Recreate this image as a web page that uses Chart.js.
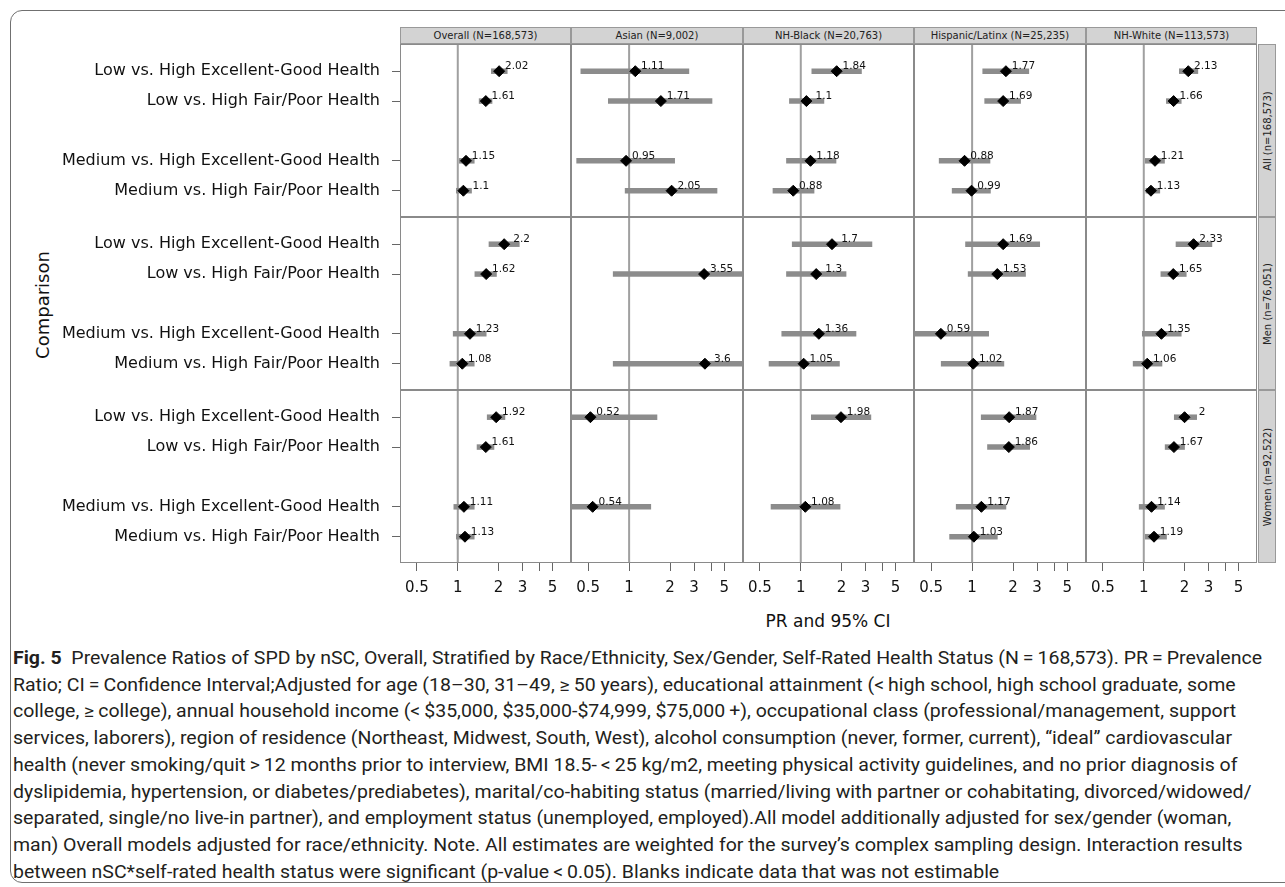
<!DOCTYPE html>
<html>
<head>
<meta charset="utf-8">
<title>Prevalence Ratios of SPD by nSC</title>
<script src="https://cdn.jsdelivr.net/npm/chart.js@4.4.1/dist/chart.umd.min.js"></script>
<style>
  html, body { margin: 0; padding: 0; background: #fff; }
  #fig { position: relative; width: 1285px; height: 887px; overflow: hidden; font-family: "DejaVu Sans", sans-serif; color: #111; }
  .frame { position: absolute; left: 10px; top: 10px; width: 1320px; height: 873px; border: 1.5px solid #707070; border-radius: 12px; box-sizing: border-box; }
  canvas { position: absolute; }
  .panel { position: absolute; border: 1.5px solid #8a8a8a; box-sizing: border-box; pointer-events: none; z-index: 3; }
  .strip { position: absolute; background: #d3d3d3; border: 1px solid #999; box-sizing: border-box; font-size: 10px; color: #222; text-align: center; line-height: 15px; white-space: nowrap; z-index: 2; }
  .rstrip { position: absolute; background: #d3d3d3; border: 1px solid #999; box-sizing: border-box; z-index: 2; }
  .rstrip span { position: absolute; left: 50%; top: 50%; transform: translate(-50%, -50%) rotate(-90deg); font-size: 10px; color: #222; white-space: nowrap; }
  .ytitle { position: absolute; left: 42px; top: 305px; transform: translate(-50%, -50%) rotate(-90deg); font-size: 18px; white-space: nowrap; }
  .xtitle { position: absolute; left: 828px; top: 621px; transform: translate(-50%, -50%); font-size: 17px; white-space: nowrap; }
  #caption { position: absolute; left: 13px; top: 645px; font-family: Roboto, "Open Sans", sans-serif; font-size: 18px; line-height: 26.7px; color: #231f20; transform-origin: 0 0; }
  #caption div { white-space: nowrap; }
</style>
</head>
<body>
<div id="fig">
  <div class="frame"></div>
  <div class="ytitle">Comparison</div>
  <div class="xtitle">PR and 95% CI</div>
  <div id="caption">
    <div><b>Fig. 5</b>&nbsp; Prevalence Ratios of SPD by nSC, Overall, Stratified by Race/Ethnicity, Sex/Gender, Self-Rated Health Status (N&thinsp;=&thinsp;168,573). PR&thinsp;=&thinsp;Prevalence</div>
    <div>Ratio; CI&thinsp;=&thinsp;Confidence Interval;Adjusted for age (18–30, 31–49, ≥&thinsp;50 years), educational attainment (&lt;&thinsp;high school, high school graduate, some</div>
    <div>college, ≥&thinsp;college), annual household income (&lt;&thinsp;$35,000, $35,000-$74,999, $75,000&thinsp;+), occupational class (professional/management, support</div>
    <div>services, laborers), region of residence (Northeast, Midwest, South, West), alcohol consumption (never, former, current), “ideal” cardiovascular</div>
    <div>health (never smoking/quit&thinsp;&gt;&thinsp;12 months prior to interview, BMI 18.5-&thinsp;&lt;&thinsp;25 kg/m2, meeting physical activity guidelines, and no prior diagnosis of</div>
    <div>dyslipidemia, hypertension, or diabetes/prediabetes), marital/co-habiting status (married/living with partner or cohabitating, divorced/widowed/</div>
    <div>separated, single/no live-in partner), and employment status (unemployed, employed).All model additionally adjusted for sex/gender (woman,</div>
    <div>man) Overall models adjusted for race/ethnicity. Note. All estimates are weighted for the survey’s complex sampling design. Interaction results</div>
    <div>between nSC*self-rated health status were significant (p-value&thinsp;&lt;&thinsp;0.05). Blanks indicate data that was not estimable</div>
  </div>
</div>
<script>
// ---- Labels ----
const comparisons = [
  "Low vs. High Excellent-Good Health",
  "Low vs. High Fair/Poor Health",
  "Medium vs. High Excellent-Good Health",
  "Medium vs. High Fair/Poor Health"
];
const groupHeaders = ["Overall (N=168,573)", "Asian (N=9,002)", "NH-Black (N=20,763)", "Hispanic/Latinx (N=25,235)", "NH-White (N=113,573)"];
const strataLabels = ["All (n=168,573)", "Men (n=76,051)", "Women (n=92,522)"];
const xTicks = [0.5, 1, 2, 3, 4, 5];
const xTickLabels = ["0.5", "1", "2", "3", "", "5"];

// ---- Prevalence ratios and 95% CI; one row per group, one value per comparison (null = not estimable) ----
const prAll = [
  [2.02, 1.61, 1.15, 1.1],
  [1.11, 1.71, 0.95, 2.05],
  [1.84, 1.1, 1.18, 0.88],
  [1.77, 1.69, 0.88, 0.99],
  [2.13, 1.66, 1.21, 1.13]
];
const loAll = [
  [1.76, 1.43, 1.02, 0.97],
  [0.44, 0.70, 0.41, 0.93],
  [1.20, 0.82, 0.78, 0.62],
  [1.19, 1.23, 0.57, 0.71],
  [1.82, 1.46, 1.02, 1.03]
];
const hiAll = [
  [2.33, 1.80, 1.33, 1.27],
  [2.76, 4.08, 2.17, 4.44],
  [2.82, 1.49, 1.83, 1.26],
  [2.62, 2.28, 1.36, 1.37],
  [2.52, 1.90, 1.43, 1.32]
];

const prMen = [
  [2.2, 1.62, 1.23, 1.08],
  [null, 3.55, null, 3.6],
  [1.7, 1.3, 1.36, 1.05],
  [1.69, 1.53, 0.59, 1.02],
  [2.33, 1.65, 1.35, 1.06]
];
const loMen = [
  [1.69, 1.33, 0.92, 0.87],
  [null, 0.76, null, 0.76],
  [0.86, 0.78, 0.72, 0.58],
  [0.89, 0.93, 0.38, 0.59],
  [1.72, 1.33, 0.97, 0.83]
];
const hiMen = [
  [2.86, 1.94, 1.63, 1.33],
  [null, 16.6, null, 17.0],
  [3.37, 2.17, 2.57, 1.94],
  [3.15, 2.48, 1.33, 1.72],
  [3.20, 2.07, 1.90, 1.37]
];

const prWomen = [
  [1.92, 1.61, 1.11, 1.13],
  [0.52, null, 0.54, null],
  [1.98, null, 1.08, null],
  [1.87, 1.86, 1.17, 1.03],
  [2, 1.67, 1.14, 1.19]
];
const loWomen = [
  [1.64, 1.38, 0.93, 0.97],
  [0.17, null, 0.18, null],
  [1.19, null, 0.60, null],
  [1.16, 1.29, 0.76, 0.68],
  [1.67, 1.43, 0.92, 1.02]
];
const hiWomen = [
  [2.24, 1.86, 1.33, 1.33],
  [1.61, null, 1.45, null],
  [3.31, null, 1.96, null],
  [2.96, 2.66, 1.78, 1.54],
  [2.47, 2.01, 1.43, 1.48]
];

const strata = [
  { pr: prAll, lo: loAll, hi: hiAll },
  { pr: prMen, lo: loMen, hi: hiMen },
  { pr: prWomen, lo: loWomen, hi: hiWomen }
];

// ---- Layout ----
const colEdges = [400, 571, 743, 914, 1086, 1257];
const rowEdges = [44, 217, 390, 563];
const Y_AXIS_W = 400;
const X_AXIS_H = 42;
const slotY = [0, 1, 3, 4];       // gap between the Low and Medium comparisons
const Y_MIN = -0.91, Y_MAX = 4.88;
const X_MIN = 0.3746, X_MAX = 6.85;

Chart.defaults.font.family = '"DejaVu Sans", sans-serif';
Chart.defaults.color = '#111';

const fig = document.getElementById('fig');

// value printed beside each diamond
const valueLabels = {
  id: 'valueLabels',
  afterDatasetsDraw(chart) {
    const idx = chart.data.datasets.findIndex(d => d.label === 'PR');
    if (idx < 0) return;
    const ds = chart.data.datasets[idx];
    const meta = chart.getDatasetMeta(idx);
    const ctx = chart.ctx;
    ctx.save();
    ctx.font = '10.5px "DejaVu Sans", sans-serif';
    ctx.fillStyle = '#111';
    ctx.textAlign = 'center';
    ctx.textBaseline = 'alphabetic';
    meta.data.forEach((pt, i) => {
      ctx.fillText(String(ds.data[i].x), pt.x + 17.5, pt.y - 2);
    });
    ctx.restore();
  }
};

function buildPanel(r, c) {
  const isLeft = c === 0, isBottom = r === rowEdges.length - 2;
  const s = strata[r];
  const pr = s.pr[c], lo = s.lo[c], hi = s.hi[c];

  const left = colEdges[c] - (isLeft ? Y_AXIS_W : 0);
  const top = rowEdges[r];
  const w = colEdges[c + 1] - colEdges[c] + (isLeft ? Y_AXIS_W : 0);
  const h = rowEdges[r + 1] - rowEdges[r] + (isBottom ? X_AXIS_H : 0);

  const cv = document.createElement('canvas');
  cv.width = w; cv.height = h;
  cv.style.left = left + 'px'; cv.style.top = top + 'px';
  cv.style.width = w + 'px'; cv.style.height = h + 'px';
  fig.appendChild(cv);

  const datasets = [];
  datasets.push({
    label: 'PR',
    data: comparisons.map((_, k) => pr[k] == null ? null : { x: pr[k], y: slotY[k] }).filter(Boolean),
    pointStyle: 'rectRot', pointRadius: 5.5, pointBackgroundColor: '#000', pointBorderColor: '#000', pointBorderWidth: 1,
    showLine: false, order: 0
  });
  comparisons.forEach((_, k) => {
    if (lo[k] == null) return;
    datasets.push({
      label: 'CI',
      data: [{ x: lo[k], y: slotY[k] }, { x: hi[k], y: slotY[k] }],
      showLine: true, borderColor: '#8c8c8c', borderWidth: 5.5, borderCapStyle: 'butt',
      pointRadius: 0, clip: 0, order: 1
    });
  });
  datasets.push({
    label: 'ref',
    data: [{ x: 1, y: Y_MIN - 1 }, { x: 1, y: Y_MAX + 1 }],
    showLine: true, borderColor: '#a0a0a0', borderWidth: 2, pointRadius: 0, clip: 0, order: 2
  });

  new Chart(cv, {
    type: 'scatter',
    data: { datasets },
    plugins: [valueLabels],
    options: {
      responsive: false, animation: false, devicePixelRatio: 1,
      layout: { padding: 0, autoPadding: false },
      events: [],
      plugins: { legend: { display: false }, tooltip: { enabled: false } },
      scales: {
        x: {
          type: 'logarithmic', min: X_MIN, max: X_MAX, display: isBottom,
          afterBuildTicks: sc => { sc.ticks = xTicks.map(v => ({ value: v })); },
          afterFit: sc => { if (isBottom) { sc.height = X_AXIS_H; sc.paddingLeft = 0; sc.paddingRight = 0; } },
          grid: { drawOnChartArea: false, drawTicks: true, tickLength: 8, color: '#666', lineWidth: 1 },
          border: { display: false },
          ticks: { autoSkip: false, maxRotation: 0, padding: 8, color: '#111', font: { size: 15 },
                   callback: (v, i) => xTickLabels[i] }
        },
        y: {
          type: 'linear', reverse: true, min: Y_MIN, max: Y_MAX, display: isLeft,
          afterBuildTicks: sc => { sc.ticks = slotY.map(v => ({ value: v })); },
          afterFit: sc => { if (isLeft) { sc.width = Y_AXIS_W; sc.paddingTop = 0; sc.paddingBottom = 0; } },
          grid: { drawOnChartArea: false, drawTicks: true, tickLength: 8, color: '#666', lineWidth: 1 },
          border: { display: false },
          ticks: { autoSkip: false, padding: 12, color: '#111', font: { size: 16 },
                   callback: (v, i) => comparisons[i] }
        }
      }
    }
  });

  const frame = document.createElement('div');
  frame.className = 'panel';
  frame.style.left = colEdges[c] + 'px';
  frame.style.top = rowEdges[r] + 'px';
  frame.style.width = (colEdges[c + 1] - colEdges[c]) + 'px';
  frame.style.height = (rowEdges[r + 1] - rowEdges[r]) + 'px';
  fig.appendChild(frame);
}

for (let r = 0; r < strataLabels.length; r++) {
  for (let c = 0; c < groupHeaders.length; c++) buildPanel(r, c);
}

// column headers
groupHeaders.forEach((t, c) => {
  const d = document.createElement('div');
  d.className = 'strip';
  d.style.left = colEdges[c] + 'px';
  d.style.top = '27px';
  d.style.width = (colEdges[c + 1] - colEdges[c]) + 'px';
  d.style.height = '17px';
  d.textContent = t;
  fig.appendChild(d);
});

// row headers
strataLabels.forEach((t, r) => {
  const d = document.createElement('div');
  d.className = 'rstrip';
  d.style.left = (colEdges[colEdges.length - 1] + 1) + 'px';
  d.style.top = rowEdges[r] + 'px';
  d.style.width = '18px';
  d.style.height = (rowEdges[r + 1] - rowEdges[r]) + 'px';
  const sp = document.createElement('span');
  sp.textContent = t;
  d.appendChild(sp);
  fig.appendChild(d);
});

// caption set in a condensed width
const cap = document.getElementById('caption');
const firstLine = cap.firstElementChild;
const k = 1249 / firstLine.getBoundingClientRect().width;
cap.style.transform = 'scaleX(' + k + ')';
</script>
</body>
</html>
